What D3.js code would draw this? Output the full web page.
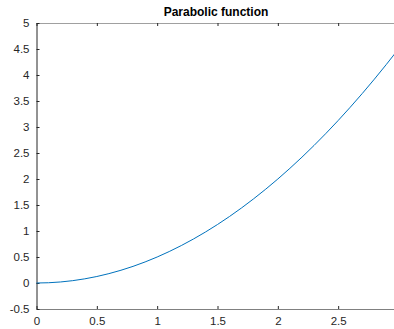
<!DOCTYPE html>
<html>
<head>
<meta charset="utf-8">
<script src="https://cdn.jsdelivr.net/npm/d3@7"></script>
<style>
  body { margin: 0; background: #fff; }
  svg { display: block; font-family: "Liberation Sans", Arial, sans-serif; }
</style>
</head>
<body>
<svg id="chart" width="394" height="329"></svg>
<script>
// values
let xValues = [0, 0.1, 0.2, 0.3, 0.4, 0.5, 0.6, 0.7, 0.8, 0.9, 1.0,
               1.1, 1.2, 1.3, 1.4, 1.5, 1.6, 1.7, 1.8, 1.9, 2.0,
               2.1, 2.2, 2.3, 2.4, 2.5, 2.6, 2.7, 2.8, 2.9, 3.0];
let yValues = [0, 0.005, 0.02, 0.045, 0.08, 0.125, 0.18, 0.245, 0.32, 0.405, 0.5,
               0.605, 0.72, 0.845, 0.98, 1.125, 1.28, 1.445, 1.62, 1.805, 2.0,
               2.205, 2.42, 2.645, 2.88, 3.125, 3.38, 3.645, 3.92, 4.205, 4.5];
let xTicks = [0, 0.5, 1, 1.5, 2, 2.5];
let yTicks = [-0.5, 0, 0.5, 1, 1.5, 2, 2.5, 3, 3.5, 4, 4.5, 5];
let title = 'Parabolic function';

let svg = d3.select('#chart');
let mLeft = 36.5, mRight = 398.5, mTop = 23, mBottom = 309;

let x = d3.scaleLinear().domain([0, 3]).range([mLeft, mRight]);
let y = d3.scaleLinear().domain([-0.5, 5]).range([mBottom, mTop]);

let axisColor = '#262626';
let fmt = d => String(d);   // plain hyphen minus, like the original

// bottom axis
svg.append('g')
   .attr('transform', 'translate(0,' + mBottom + ')')
   .call(d3.axisBottom(x).tickValues(xTicks).tickSizeInner(-3).tickSizeOuter(0).tickPadding(8)
         .tickFormat(fmt))
   .call(g => g.select('.domain').attr('stroke', '#808080'))
   .call(g => g.selectAll('.tick line').attr('stroke', axisColor))
   .call(g => g.selectAll('text').attr('fill', axisColor).style('font-size', '11.5px'));

// top axis (box)
svg.append('g')
   .attr('transform', 'translate(0,' + mTop + ')')
   .call(d3.axisTop(x).tickValues(xTicks).tickSizeInner(-3).tickSizeOuter(0).tickFormat(''))
   .call(g => g.select('.domain').attr('stroke', '#a0a0a0'))
   .call(g => g.selectAll('.tick line').attr('stroke', axisColor));

// left axis
svg.append('g')
   .attr('transform', 'translate(' + mLeft + ',0)')
   .call(d3.axisLeft(y).tickValues(yTicks).tickSizeInner(-3).tickSizeOuter(0).tickPadding(7)
         .tickFormat(fmt))
   .call(g => g.select('.domain').attr('stroke', axisColor))
   .call(g => g.selectAll('.tick line').attr('stroke', axisColor))
   .call(g => g.selectAll('text').attr('fill', axisColor).style('font-size', '11.5px'));

// curve
let points = xValues.map((v, i) => [v, yValues[i]]);
let line = d3.line()
             .x(d => x(d[0]))
             .y(d => y(d[1]))
             .curve(d3.curveNatural);

svg.append('path')
   .datum(points)
   .attr('d', line)
   .attr('fill', 'none')
   .attr('stroke', '#0072BD')
   .attr('stroke-width', 1);

// title
svg.append('text')
   .attr('x', 216)
   .attr('y', 16)
   .attr('text-anchor', 'middle')
   .attr('fill', '#000')
   .style('font-size', '12px')
   .style('font-weight', 'bold')
   .text(title);
</script>
</body>
</html>
